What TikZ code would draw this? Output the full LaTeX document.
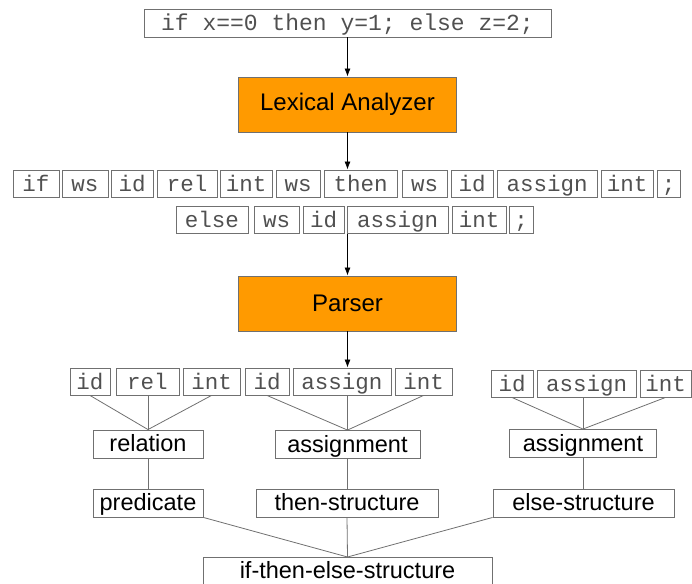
\documentclass[tikz,border=0pt]{standalone}
\usepackage{fontspec}
\setmainfont{Liberation Sans}
\setmonofont{Liberation Mono}
\usetikzlibrary{arrows.meta}
\definecolor{phaseorange}{HTML}{FF9A00}
\definecolor{edgegray}{HTML}{707070}
\definecolor{codegray}{HTML}{505050}
\tikzset{
  tok/.style={draw=edgegray, line width=0.9pt, text=codegray, font=\fontsize{22.5}{24}\ttfamily, inner sep=0pt,
    text height=17.5pt, text depth=2pt, minimum height=27pt},
  phase/.style={draw=edgegray, line width=0.9pt, fill=phaseorange, font=\fontsize{24}{26}\selectfont, minimum width=218pt, minimum height=55pt},
  cat/.style={draw=edgegray, line width=0.9pt, font=\fontsize{23.5}{25}\selectfont, inner sep=0pt,
    text height=18.5pt, text depth=3.5pt, minimum height=28pt},
  flow/.style={-{Latex[length=8pt,width=6pt]}, line width=0.8pt},
  link/.style={edgegray, line width=0.8pt}
}
\begin{document}
\begin{tikzpicture}[x=1pt, y=-1pt]
  \useasboundingbox (0,0) rectangle (692,583);
  \clip (0,0) rectangle (692,583);
  % source line and the two phases
  \node[tok, font=\fontsize{23}{25}\ttfamily, minimum width=407pt, minimum height=28pt] (src) at (347.5,23) {if x==0 then y=1; else z=2;};
  \node[phase] (lex) at (347.5,104.5) {Lexical Analyzer};
  \node[phase] (parser) at (347.5,303.5) {Parser};
  % token stream
  \foreach \n/\t/\l/\r in {t1/if/13/59, t2/ws/62/108, t3/id/111/153, t4/rel/157/217,
      t5/int/220/272, t6/ws/276/320, t7/then/324/397, t8/ws/402/447, t9/id/451/493,
      t10/assign/497/597, t11/int/601/653, t12/{;}/657/680} {
    \node[tok, minimum width={(\r-\l)*1pt}] (\n) at ({(\l+\r)/2},183.5) {\t};
  }
  \foreach \n/\t/\l/\r in {u1/else/176/248, u2/ws/254/299, u3/id/303/344,
      u4/assign/347/448, u5/int/452/506, u6/{;}/509/533} {
    \node[tok, minimum width={(\r-\l)*1pt}] (\n) at ({(\l+\r)/2},220) {\t};
  }
  % leaves of the tree
  \foreach \n/\t/\l/\r/\y in {p1/id/70/110/381.5, p2/rel/116/179/381.5, p3/int/183/240/381.5,
      p4/id/245/289/381.5, p5/assign/293/391/381.5, p6/int/395/452/381.5,
      p7/id/491/533/383.5, p8/assign/537/636/383.5, p9/int/640/691/383.5} {
    \node[tok, minimum width={(\r-\l)*1pt}] (\n) at ({(\l+\r)/2},\y) {\t};
  }
  % inner nodes
  \node[cat, minimum width=110pt] (rel) at (148,444) {relation};
  \node[cat, minimum width=145pt] (asg1) at (347.5,444.5) {assignment};
  \node[cat, minimum width=147pt] (asg2) at (583,443.5) {assignment};
  \node[cat, minimum width=110pt] (pred) at (148,503) {predicate};
  \node[cat, minimum width=182pt] (thens) at (347,503) {then-structure};
  \node[cat, minimum width=181pt] (elses) at (583.5,503) {else-structure};
  \node[cat, minimum width=289pt, minimum height=44pt, anchor=north] (ite) at (347.5,557) {};
  \node[font=\fontsize{23.5}{25}\selectfont, inner sep=0pt, text height=18.5pt, text depth=3.5pt] (itelabel) at (347.5,571) {if-then-else-structure};
  % arrows
  \draw[flow] (src) -- (lex);
  \draw[flow] (lex.south) -- (lex.south |- t7.north);
  \draw[flow] (parser.north |- u4.south) -- (parser.north);
  \draw[flow] (parser.south) -- (parser.south |- p5.north);
  % tree edges
  \draw[link] (p1.south) -- (rel.north);
  \draw[link] (rel.north |- p2.south) -- (rel.north);
  \draw[link] (p3.south) -- (rel.north);
  \draw[link] (p4.south) -- (asg1.north);
  \draw[link] (asg1.north |- p5.south) -- (asg1.north);
  \draw[link] (p6.south) -- (asg1.north);
  \draw[link] (p7.south) -- (asg2.north);
  \draw[link] (asg2.north |- p8.south) -- (asg2.north);
  \draw[link] (p9.south) -- (asg2.north);
  \draw[link] (rel) -- (pred);
  \draw[link] (asg1.south) -- (asg1.south |- thens.north);
  \draw[link] (asg2.south) -- (asg2.south |- elses.north);
  \draw[link] (pred.south east) -- (ite.north);
  \draw[link] (thens.south) -- (ite.north);
  \draw[link] (elses.south west) -- (ite.north);
\end{tikzpicture}
\end{document}
